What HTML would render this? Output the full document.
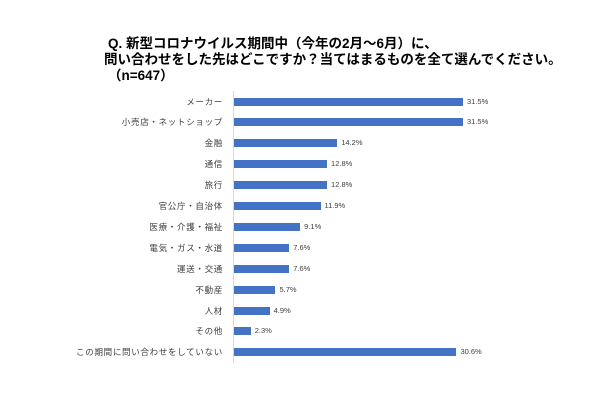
<!DOCTYPE html>
<html><head><meta charset="utf-8"><style>
body{margin:0;width:600px;height:400px;background:#fff;position:relative;overflow:hidden;font-family:"Liberation Sans","Noto Sans CJK JP",sans-serif}
.t{position:absolute;font-weight:bold;font-size:13.5px;color:#000;white-space:nowrap;line-height:16px}
.l{position:absolute;right:377px;font-size:8.5px;letter-spacing:0.7px;color:#404040;white-space:nowrap;line-height:10px}
.b{position:absolute;left:234px;height:8px;background:#4472c4}
.v{position:absolute;font-size:7.5px;color:#404040;line-height:10px}
</style></head><body>
<div class="t" style="left:108px;top:36px">Q.&nbsp;新型コロナウイルス期間中（今年の2月～6月）に、</div>
<div class="t" style="left:104px;top:52px">問い合わせをした先はどこですか？当てはまるものを全て選んでください。</div>
<div class="t" style="left:108px;top:68px">（n=647）</div>
<div style="position:absolute;left:233px;top:91px;width:1px;height:272px;background:#d9d9d9"></div>
<div id="c"></div>
<script>
var d=[["メーカー",31.5],["小売店・ネットショップ",31.5],["金融",14.2],["通信",12.8],["旅行",12.8],["官公庁・自治体",11.9],["医療・介護・福祉",9.1],["電気・ガス・水道",7.6],["運送・交通",7.6],["不動産",5.7],["人材",4.9],["その他",2.3],["この期間に問い合わせをしていない",30.6]];
var h="";d.forEach(function(r,i){var y=101.5+i*20.9;var w=r[1]*7.27;
h+='<div class="l" style="top:'+(y-5)+'px">'+r[0]+'</div><div class="b" style="top:'+(y-4)+'px;width:'+w+'px"></div><div class="v" style="left:'+(234+w+4)+'px;top:'+(y-5)+'px">'+r[1].toFixed(1)+'%</div>';});
document.getElementById("c").innerHTML=h;
</script>
</body></html>
